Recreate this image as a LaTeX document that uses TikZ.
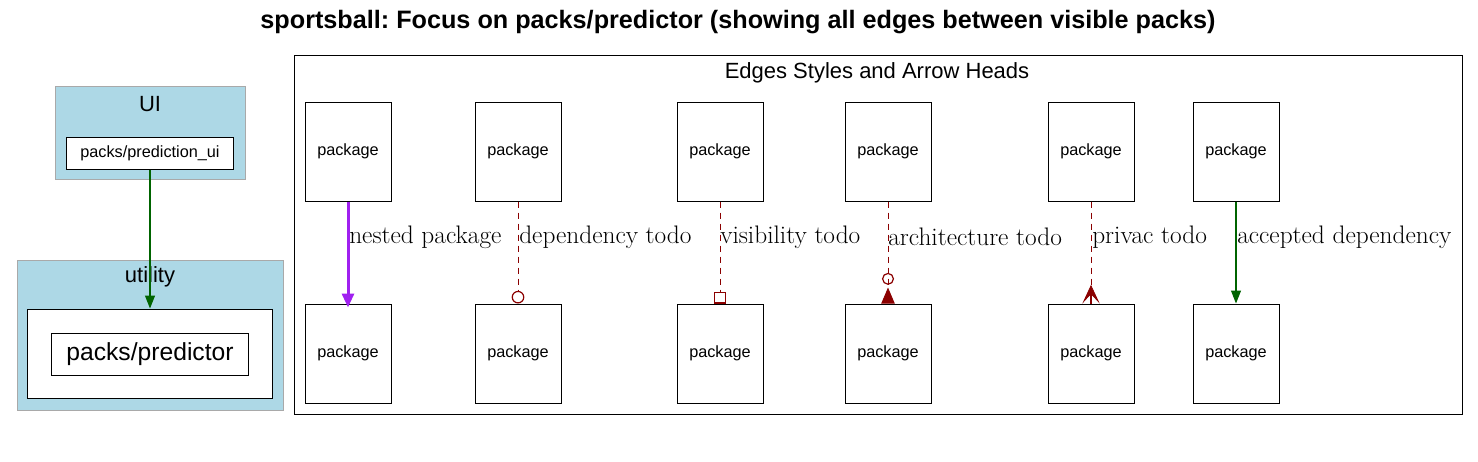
\documentclass[tikz,border=0pt]{standalone}
\usepackage{fontspec}
\newfontfamily\sansf{Liberation Sans}
\usetikzlibrary{arrows.meta}
\definecolor{cpurple}{HTML}{A020F0}
\definecolor{cdarkred}{HTML}{8B0000}
\definecolor{cgreen}{HTML}{006400}
\definecolor{clightblue}{HTML}{ADD8E6}
\definecolor{cgrayb}{HTML}{A9A9A9}
\frenchspacing
\begin{document}
\begin{tikzpicture}[x=0.75pt,y=-0.75pt,
  pkg/.style={draw,line width=0.75pt,fill=white,minimum width=64.5pt,minimum height=74.25pt,inner sep=0pt,font=\sansf\fontsize{12.2}{14}\selectfont},
  cluster/.style={draw=cgrayb,line width=0.75pt,fill=clightblue,inner sep=0pt},
  boxnode/.style={draw,line width=0.75pt,fill=white,inner sep=0pt},
  clabel/.style={font=\sansf\fontsize{16.5}{19}\selectfont,inner sep=0pt},
  elabel/.style={font=\fontsize{19}{22}\selectfont,anchor=west,inner sep=0pt},
  todo/.style={draw=cdarkred,line width=0.75pt,dash pattern=on 4.5pt off 3.75pt},
  accepted/.style={color=cgreen,draw=cgreen,line width=0.8pt,-{Triangle[length=9.75pt,width=7.5pt]},fill=cgreen},
]
\fill[white] (0,0) rectangle (1478,461);
\path[use as bounding box] (0,0) rectangle (1478,461);

\node[font=\sansf\bfseries\fontsize{18.9}{22}\selectfont,inner sep=0pt] (title) at (738,22)
  {sportsball: Focus on packs/predictor (showing all edges between visible packs)};

% left clusters
\node[cluster,minimum width=142.5pt,minimum height=69.75pt] (ui) at (150,132.5) {};
\node[clabel] (uilab) at (150,104) {UI};
\node[boxnode,minimum width=125.25pt,minimum height=24pt,font=\sansf\fontsize{12.2}{14}\selectfont] (pui) at (150,153) {packs/prediction\_ui};

\node[cluster,minimum width=199.5pt,minimum height=112.5pt] (util) at (150,335) {};
\node[clabel] (utillab) at (150,277) {utility};
\node[boxnode,minimum width=183.75pt,minimum height=66.75pt] (inner) at (150,353.5) {};
\node[boxnode,minimum width=147.75pt,minimum height=31.5pt,font=\sansf\fontsize{18.5}{21}\selectfont] (pred) at (150,354) {packs/predictor};

\draw[accepted] (pui.south) -- (inner.north);

% legend cluster
\node[draw,line width=0.75pt,minimum width=876pt,minimum height=269.25pt,inner sep=0pt] (legend) at (878,234.5) {};
\node[clabel] (leglab) at (877,73) {Edges Styles and Arrow Heads};

\foreach \i/\x in {1/348,2/518,3/720,4/888,5/1091,6/1236}{
  \node[pkg] (t\i) at (\x,151.5) {package};
  \node[pkg] (b\i) at (\x,353.5) {package};
}

% 1 nested package
\draw[draw=cpurple,fill=cpurple,line width=2.25pt,-{Triangle[length=10.5pt,width=9pt]},shorten >=-3pt] (t1.south) -- (b1.north);
\node[elabel] (l1) at (349,237) {nested package};

% 2 dependency todo
\draw[todo,-{Circle[open,length=9.5pt,width=9.5pt,line width=0.9pt]}] (t2.south) -- (b2.north);
\node[elabel] (l2) at (519,237) {dependency todo};

% 3 visibility todo
\draw[todo,-{Square[open,length=9pt,width=9pt,line width=0.9pt]}] (t3.south) -- (b3.north);
\node[elabel] (l3) at (720,237) {visibility todo};

% 4 architecture todo
\draw[todo,-{Circle[open,length=9pt,width=9pt,line width=0.9pt,sep=2pt] Triangle[reversed,length=12pt,width=10pt,fill=cdarkred]}] (t4.south) -- (b4.north);
\node[elabel] (l4) at (888,237) {architecture todo};

% 5 privac todo
\draw[todo,-{Stealth[reversed,length=14pt,width=13pt,inset=7pt,fill=cdarkred,line width=0.6pt]}] (t5.south) -- (b5.north);
\draw[cdarkred,line width=0.9pt] ([yshift=9pt]b5.north) -- (b5.north);
\node[elabel] (l5) at (1092,237) {privac todo};

% 6 accepted dependency
\draw[accepted] (t6.south) -- (b6.north);
\node[elabel] (l6) at (1237,237) {accepted dependency};
\end{tikzpicture}
\end{document}
